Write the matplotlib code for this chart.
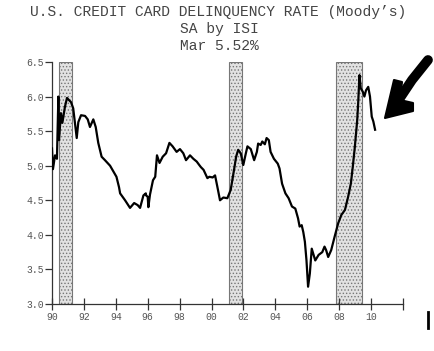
import matplotlib.pyplot as plt
import matplotlib.patches as mpatches

# delinquency rate (decimal year, percent)
years = [1990.00, 1990.06, 1990.19, 1990.31, 1990.40, 1990.44, 1990.56, 1990.65,
         1990.81, 1990.94, 1991.06, 1991.19, 1991.33, 1991.55, 1991.65, 1991.82,
         1992.07, 1992.24, 1992.38, 1992.59, 1992.74, 1992.90, 1993.11, 1993.32,
         1993.64, 1994.04, 1994.20, 1994.27, 1994.58, 1994.89, 1995.15,
         1995.37, 1995.52, 1995.73, 1995.88, 1995.90, 1996.00, 1996.04, 1996.14, 1996.33,
         1996.47, 1996.58, 1996.74, 1996.94, 1997.15, 1997.36, 1997.56, 1997.81,
         1998.02, 1998.23, 1998.40, 1998.65, 1998.86, 1999.07, 1999.23, 1999.33,
         1999.50, 1999.74, 1999.86, 2000.07, 2000.22, 2000.36, 2000.53, 2000.74,
         2000.99, 2001.20, 2001.41, 2001.54, 2001.67, 2001.83, 2001.99, 2002.15,
         2002.25, 2002.46, 2002.67, 2002.84, 2002.92, 2003.08, 2003.18, 2003.34,
         2003.45, 2003.59, 2003.70, 2003.91, 2004.15, 2004.26, 2004.42, 2004.63,
         2004.83, 2005.04, 2005.25, 2005.42, 2005.52, 2005.65, 2005.75, 2005.85,
         2005.95, 2006.05, 2006.16, 2006.28, 2006.50, 2006.71, 2006.94, 2007.08,
         2007.18, 2007.31, 2007.50, 2007.71, 2007.94, 2008.14, 2008.36, 2008.56,
         2008.73, 2008.85, 2008.98, 2009.13, 2009.20, 2009.27, 2009.35, 2009.48,
         2009.58, 2009.68, 2009.82, 2009.93, 2010.04, 2010.14, 2010.25]
rate = [5.25, 4.95, 5.15, 5.10, 6.00, 5.37, 5.76, 5.62,
        5.85, 5.98, 5.95, 5.92, 5.83, 5.40, 5.63, 5.73,
        5.72, 5.67, 5.56, 5.67, 5.56, 5.33, 5.13, 5.08,
        5.00, 4.84, 4.69, 4.60, 4.50, 4.39, 4.46,
        4.43, 4.39, 4.57, 4.60, 4.57, 4.55, 4.40, 4.58, 4.79,
        4.84, 5.15, 5.04, 5.13, 5.18, 5.33, 5.28, 5.20,
        5.24, 5.18, 5.08, 5.15, 5.10, 5.06, 5.01, 4.98,
        4.94, 4.82, 4.84, 4.83, 4.86, 4.70, 4.50, 4.54,
        4.53, 4.65, 4.94, 5.13, 5.23, 5.18, 5.01, 5.18,
        5.28, 5.24, 5.08, 5.20, 5.32, 5.30, 5.35, 5.31,
        5.40, 5.37, 5.20, 5.10, 5.03, 4.96, 4.74, 4.60,
        4.53, 4.41, 4.38, 4.24, 4.12, 4.14, 4.04, 3.90,
        3.63, 3.25, 3.44, 3.80, 3.63, 3.71, 3.75, 3.83,
        3.78, 3.68, 3.78, 3.97, 4.17, 4.29, 4.36, 4.55,
        4.74, 4.98, 5.27, 5.66, 5.95, 6.31, 6.12, 6.07,
        6.00, 6.09, 6.14, 6.00, 5.71, 5.64, 5.52]

recessions = [(1990.45, 1991.23), (2001.10, 2001.90), (2007.80, 2009.45)]
xticks = [1990, 1992, 1994, 1996, 1998, 2000, 2002, 2004, 2006, 2008, 2010, 2012]
xlabels = ["90", "92", "94", "96", "98", "00", "02", "04", "06", "08", "10", ""]
yticks = [3.0, 3.5, 4.0, 4.5, 5.0, 5.5, 6.0, 6.5]

plt.rcParams['font.family'] = ['Liberation Mono', 'DejaVu Sans Mono']
plt.rcParams['hatch.color'] = '#9a9a9a'
plt.rcParams['hatch.linewidth'] = 0.6

fig = plt.figure(figsize=(4.34, 3.51), dpi=100)
ax = fig.add_axes([0.1198, 0.1339, 0.8088, 0.6895])

for a, b in recessions:
    ax.axvspan(a, b, facecolor='#e2e2e2', edgecolor='#777777', hatch='.....',
               linewidth=0.8, zorder=1)

ax.plot(years, rate, color='black', linewidth=1.6, zorder=3)

ax.set_xlim(1990, 2012)
ax.set_ylim(3.0, 6.5)
ax.set_xticks(xticks)
ax.set_xticklabels(xlabels)
ax.set_yticks(yticks)
ax.set_yticklabels([f"{v:.1f}" for v in yticks])
for s in ['top', 'right']:
    ax.spines[s].set_visible(False)
for s in ['left', 'bottom']:
    ax.spines[s].set_color('#333333')
    ax.spines[s].set_linewidth(0.9)
ax.tick_params(axis='x', direction='inout', length=9, width=0.9, colors='#333333',
               labelcolor='#555555', labelsize=7, pad=1)
ax.tick_params(axis='y', direction='out', length=5, width=0.9, colors='#333333',
               labelcolor='#555555', labelsize=7, pad=1)

fig.text(0.503, 0.965, "U.S. CREDIT CARD DELINQUENCY RATE (Moody\u2019s)",
         ha='center', va='center', fontsize=10.5, color='#444444')
fig.text(0.505, 0.918, "SA by ISI", ha='center', va='center', fontsize=10.5, color='#444444')
fig.text(0.505, 0.870, "Mar 5.52%", ha='center', va='center', fontsize=10.5, color='#444444')

# hand-drawn arrow pointing at the latest reading
fig.add_artist(plt.Line2D([428 / 434, 412 / 434, 392 / 434], [1 - 60 / 351, 1 - 80 / 351, 1 - 110 / 351],
                          color='black', linewidth=7, solid_capstyle='round',
                          solid_joinstyle='round'))
fig.add_artist(mpatches.Polygon([[385 / 434, 1 - 118 / 351], [394 / 434, 1 - 80 / 351],
                                 [402 / 434, 1 - 82 / 351], [400 / 434, 1 - 100 / 351],
                                 [413 / 434, 1 - 103 / 351], [413 / 434, 1 - 111 / 351]],
                                closed=True, color='black', joinstyle='round', linewidth=1.5))
fig.add_artist(plt.Line2D([428 / 434, 428 / 434], [1 - 312 / 351, 1 - 328 / 351],
                          color='black', linewidth=2))

fig.savefig("out.png", dpi=100)
